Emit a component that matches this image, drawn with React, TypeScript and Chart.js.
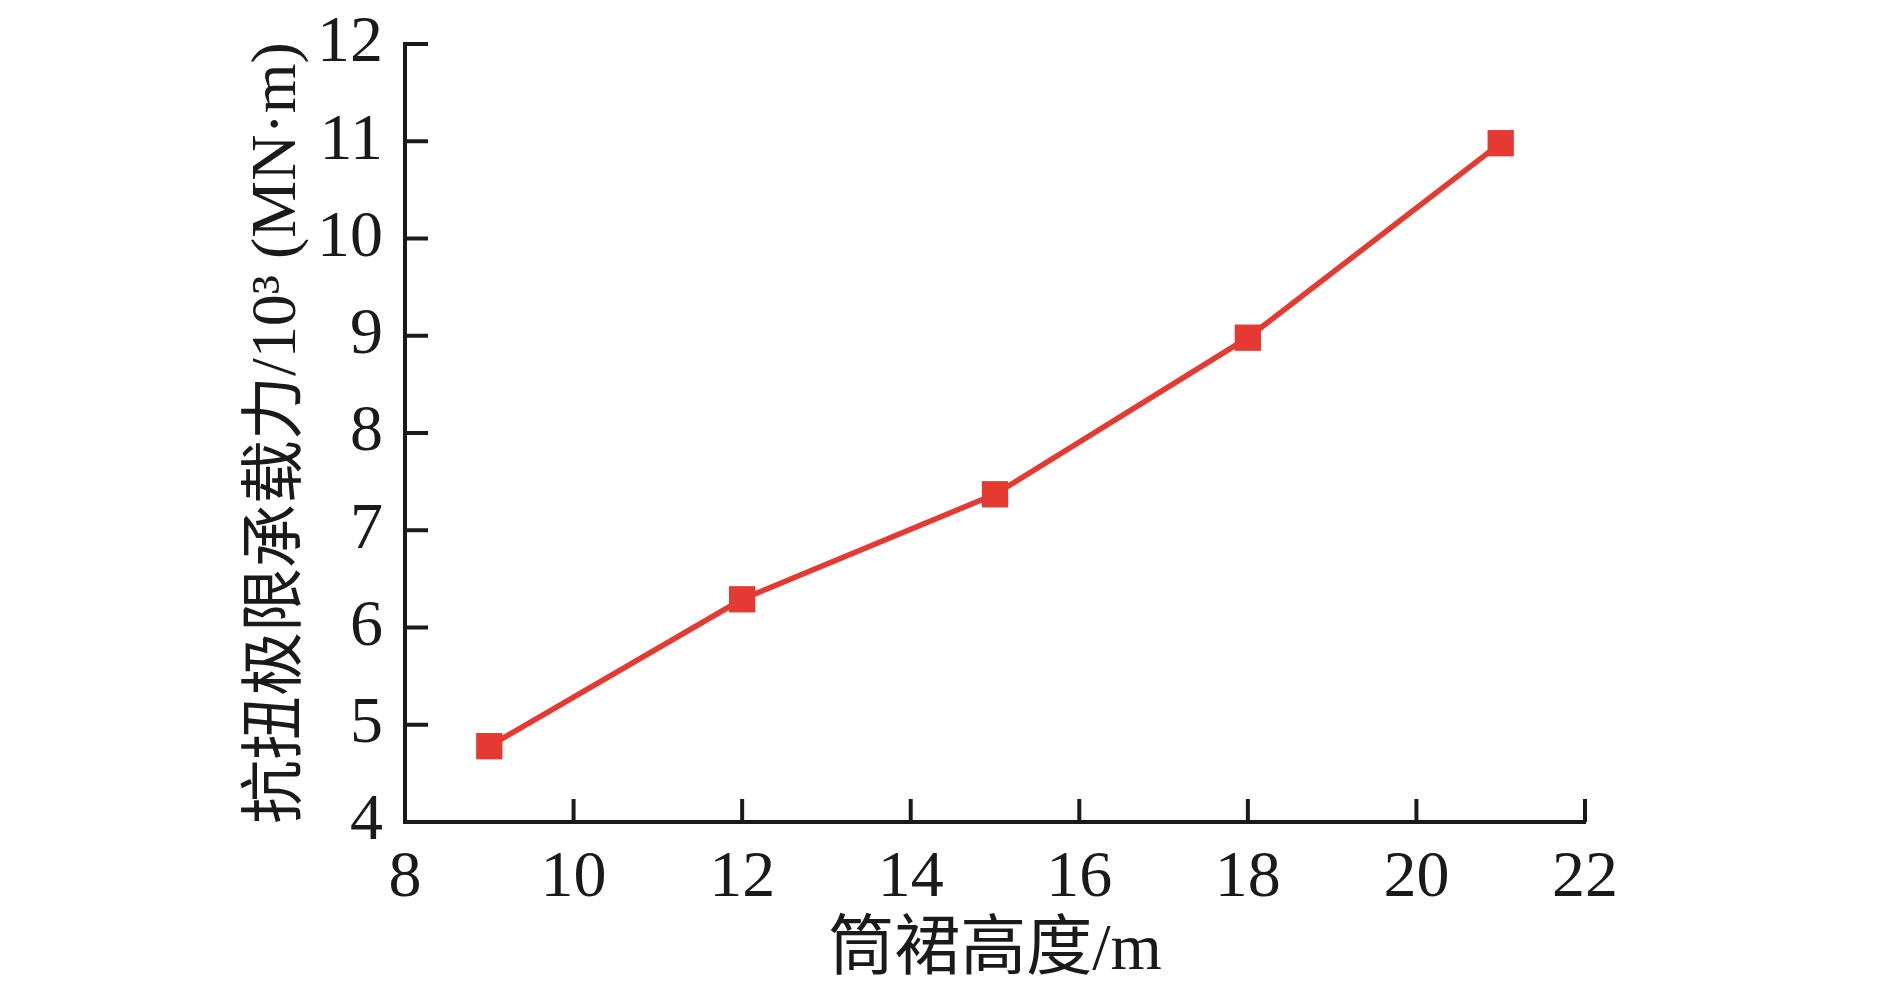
import React, { useEffect, useRef } from "react";
import { Chart, registerables } from "chart.js";

Chart.register(...registerables);

const skirtHeights = [9, 12, 15, 18, 21];
const torsionCapacity = [4.78, 6.29, 7.37, 8.98, 10.98];
const xTickRange = { min: 8, max: 22, step: 2 };
const yTickRange = { min: 4, max: 12, step: 1 };
const xTitle = "筒裙高度/m";
const yTitle = "抗扭极限承载力/10³ (MN·m)";

const AXIS = "#1a1a1a";
const RED = "#e53a32";
const FONT = "'Liberation Serif', 'Noto Sans CJK SC', serif";

const inwardTicks = {
  id: "inwardTicks",
  afterDraw(chart: any) {
    const { ctx, chartArea, scales } = chart;
    const xs = scales.x;
    const ys = scales.y;
    ctx.save();
    ctx.strokeStyle = AXIS;
    ctx.lineWidth = 4;
    ctx.lineCap = "butt";
    xs.ticks.forEach((t: any) => {
      const px = xs.getPixelForValue(t.value);
      if (px <= chartArea.left + 2) return;
      ctx.beginPath();
      ctx.moveTo(px, chartArea.bottom);
      ctx.lineTo(px, chartArea.bottom - 23);
      ctx.stroke();
    });
    ys.ticks.forEach((t: any) => {
      const py = ys.getPixelForValue(t.value);
      if (py >= chartArea.bottom - 2) return;
      ctx.beginPath();
      ctx.moveTo(chartArea.left, py);
      ctx.lineTo(chartArea.left + 23, py);
      ctx.stroke();
    });
    ctx.restore();
  },
};

export default function App() {
  const ref = useRef<HTMLCanvasElement>(null);
  useEffect(() => {
    if (!ref.current) return;
    const chart = new Chart(ref.current, {
      type: "line",
      data: {
        datasets: [
          {
            data: skirtHeights.map((x, i) => ({ x, y: torsionCapacity[i] })),
            borderColor: RED,
            backgroundColor: RED,
            borderWidth: 5.5,
            pointStyle: "rect",
            pointRadius: 18.6,
            pointBorderWidth: 0,
            pointBackgroundColor: RED,
            tension: 0,
          },
        ],
      },
      options: {
        responsive: false,
        animation: false,
        devicePixelRatio: 1,
        layout: { padding: { left: 246, top: 44, right: 305, bottom: 12 } },
        plugins: { legend: { display: false }, tooltip: { enabled: false } },
        scales: {
          x: {
            type: "linear",
            min: xTickRange.min,
            max: xTickRange.max,
            ticks: {
              stepSize: xTickRange.step,
              color: AXIS,
              font: { family: FONT, size: 66 },
              padding: 17,
              maxRotation: 0,
            },
            grid: { display: false, drawTicks: false },
            border: { display: true, color: AXIS, width: 4 },
            title: {
              display: true,
              text: xTitle,
              color: AXIS,
              font: { family: FONT, size: 66, lineHeight: 1 },
              padding: 0,
            },
            afterFit(scale: any) {
              scale.height = 163;
              scale.paddingLeft = 0;
              scale.paddingRight = 0;
            },
          },
          y: {
            type: "linear",
            min: yTickRange.min,
            max: yTickRange.max,
            ticks: {
              stepSize: yTickRange.step,
              color: AXIS,
              font: { family: FONT, size: 66 },
              padding: 22,
            },
            grid: { display: false, drawTicks: false },
            border: { display: true, color: AXIS, width: 4 },
            title: {
              display: true,
              text: yTitle,
              color: AXIS,
              font: { family: FONT, size: 64, lineHeight: 1 },
              padding: 0,
            },
            afterFit(scale: any) {
              scale.width = 159;
              scale.paddingTop = 0;
              scale.paddingBottom = 0;
            },
          },
        },
      },
      plugins: [inwardTicks],
    });
    return () => chart.destroy();
  }, []);
  return (
    <div style={{ position: "fixed", left: 0, top: 0, width: 1890, height: 997, background: "#fff" }}>
      <canvas ref={ref} width={1890} height={997} />
    </div>
  );
}
